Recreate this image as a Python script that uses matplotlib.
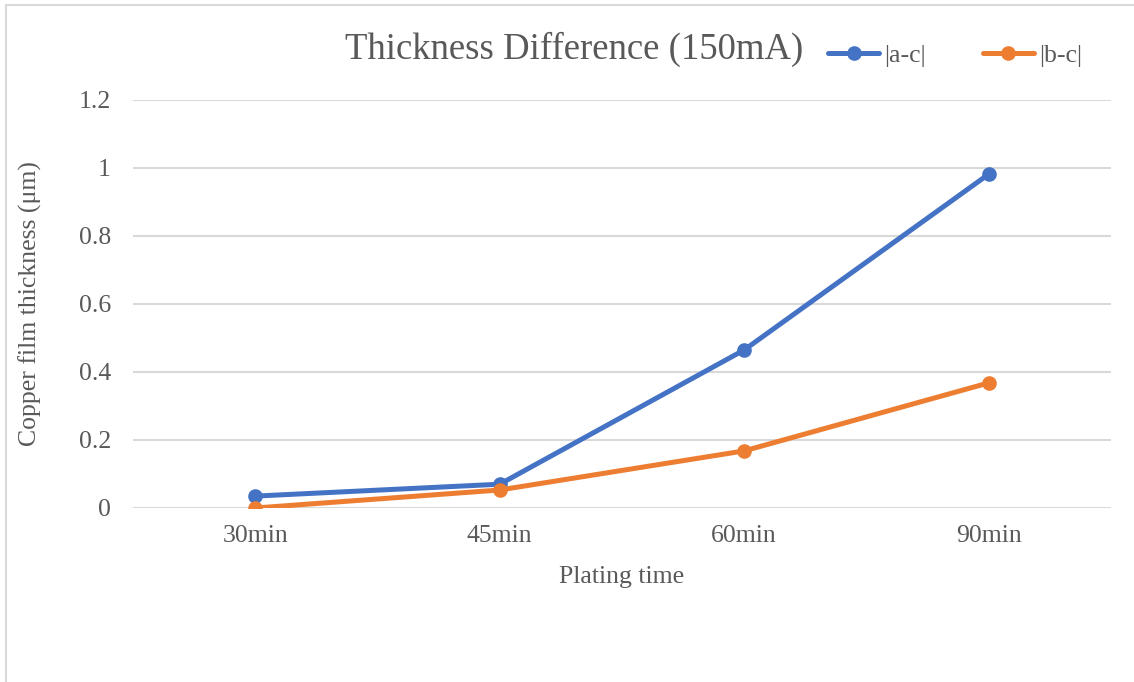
import matplotlib
matplotlib.use("Agg")
import matplotlib.pyplot as plt
from matplotlib.patches import Rectangle

categories = ["30min", "45min", "60min", "90min"]
series_ac = [0.035, 0.070, 0.465, 0.982]
series_bc = [0.000, 0.053, 0.168, 0.368]
y_ticks = [0, 0.2, 0.4, 0.6, 0.8, 1.0, 1.2]
y_tick_labels = ["0", "0.2", "0.4", "0.6", "0.8", "1", "1.2"]

W, H = 1134, 682
plt.rcParams["font.family"] = ["Liberation Serif", "DejaVu Serif"]
TXT = "#595959"
GRID = "#d9d9d9"

fig = plt.figure(figsize=(W / 100, H / 100), dpi=100)
ax = fig.add_axes([133 / W, (H - 508) / H, (1111 - 133) / W, (508 - 100) / H])

x = list(range(len(categories)))
l1, = ax.plot(x, series_ac, color="#4472C4", lw=3.6, marker="o", ms=9.5,
              solid_capstyle="round", label="|a-c|", zorder=3)
l2, = ax.plot(x, series_bc, color="#ED7D31", lw=3.6, marker="o", ms=9.5,
              solid_capstyle="round", label="|b-c|", zorder=3)

ax.set_xlim(-0.5, len(categories) - 0.5)
ax.set_ylim(0, 1.2)
ax.set_yticks(y_ticks)
ax.set_yticklabels(y_tick_labels)
ax.set_xticks(x)
ax.set_xticklabels(categories)
ax.tick_params(axis="both", length=0, labelsize=18.5, colors=TXT)
ax.tick_params(axis="y", pad=16)
ax.tick_params(axis="x", pad=12)
for s in ax.spines.values():
    s.set_visible(False)
ax.grid(axis="y", color=GRID, lw=1.5)
ax.set_axisbelow(True)
for lab in ax.get_xticklabels() + ax.get_yticklabels():
    lab.set_color(TXT)

fig.text(30 / W, 1 - 304 / H, "Copper film thickness (\u03bcm)", rotation=90,
         ha="center", va="center", fontsize=18.5, color=TXT)
fig.text(622 / W, 1 - 577 / H, "Plating time", ha="center", va="center",
         fontsize=18.5, color=TXT)
fig.text(574 / W, 1 - 49 / H, "Thickness Difference (150mA)", ha="center",
         va="center", fontsize=26.5, color=TXT)

fig.legend(handles=[l1, l2], loc="center left",
           bbox_to_anchor=(828 / W, 1 - 56 / H), ncol=2, frameon=False,
           fontsize=18.5, labelcolor=TXT, handlelength=2.0, handletextpad=0.2,
           columnspacing=2.2, borderpad=0, borderaxespad=0)

fig.patches.append(Rectangle((6 / W, -0.1), 1.5, 1.1 - 5 / H,
                             transform=fig.transFigure, fill=False,
                             edgecolor=GRID, lw=1.5))

fig.savefig("out.png", dpi=100)
